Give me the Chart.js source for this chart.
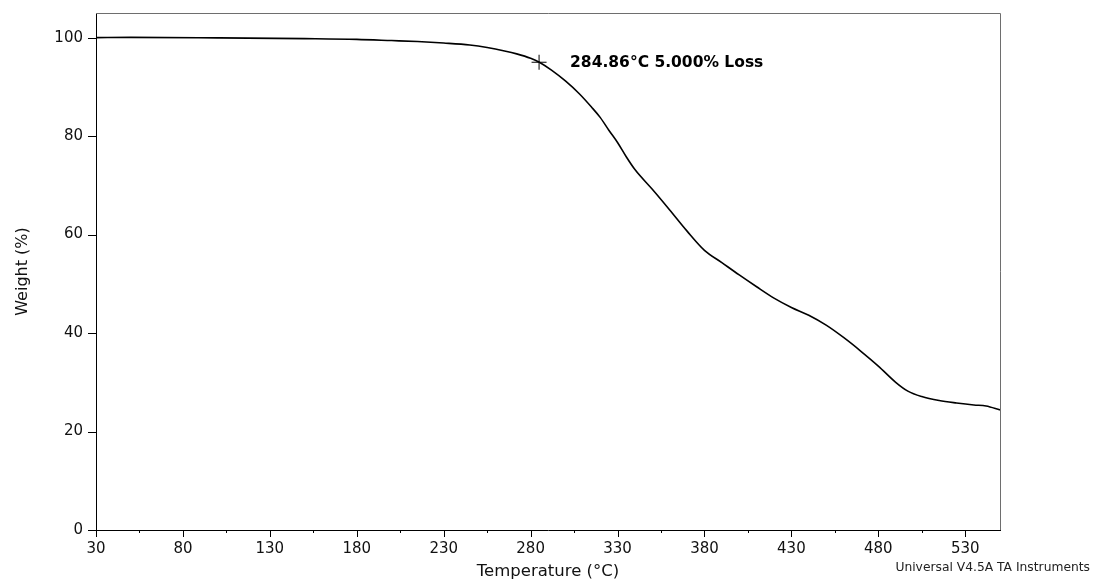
<!DOCTYPE html>
<html><head><meta charset="utf-8">
<script src="https://cdn.jsdelivr.net/npm/chart.js@4.4.1/dist/chart.umd.min.js"></script>
<style>html,body{margin:0;padding:0;background:#fff;}#wrap{width:1100px;height:580px;position:relative;}</style>
</head><body><div id="wrap"><canvas id="c" width="1100" height="580"></canvas></div>
<script>
const temperatures = [30, 50, 100, 150, 180, 200, 215, 230, 245, 255, 265, 272, 280, 285, 292, 300, 308, 315, 320, 325, 330, 335, 340, 350, 360, 370, 380, 390, 400, 410, 420, 430, 440, 450, 460, 470, 480, 490, 497, 505, 515, 525, 535, 542, 550];
const weights = [100.0, 100.05, 99.95, 99.8, 99.65, 99.4, 99.2, 98.9, 98.5, 98.0, 97.3, 96.7, 95.8, 95.0, 93.4, 91.2, 88.6, 85.9, 83.8, 81.2, 78.7, 75.8, 73.2, 69.2, 65.0, 60.7, 56.8, 54.3, 51.8, 49.4, 47.1, 45.2, 43.6, 41.6, 39.1, 36.3, 33.3, 30.0, 28.2, 27.1, 26.3, 25.8, 25.4, 25.2, 24.4];
const xTickValues = [30, 80, 130, 180, 230, 280, 330, 380, 430, 480, 530];
const xMinorTickValues = [55, 105, 155, 205, 255, 305, 355, 405, 455, 505];
const yTickValues = [0, 20, 40, 60, 80, 100];
const markerTemp = [284.86];
const markerWeight = [95.0];
const markerLabel = '284.86°C 5.000% Loss';
const xTitle = 'Temperature (°C)';
const yTitle = 'Weight (%)';
const footerText = 'Universal V4.5A TA Instruments';

const FONT = '"DejaVu Sans", "Liberation Sans", Arial, sans-serif';

const decor = {
  id: 'decor',
  afterDraw(chart) {
    const ctx = chart.ctx;
    const xs = chart.scales.x, ys = chart.scales.y;
    const a = chart.chartArea;
    ctx.save();
    ctx.strokeStyle = '#6e6e6e';
    ctx.lineWidth = 1;
    ctx.beginPath();
    ctx.moveTo(a.left, a.top + 0.5);
    ctx.lineTo(a.right + 0.5, a.top + 0.5);
    ctx.lineTo(a.right + 0.5, a.bottom);
    ctx.stroke();
    ctx.strokeStyle = '#000';
    ctx.beginPath();
    yTickValues.forEach(v => {
      const y = Math.round(ys.getPixelForValue(v)) + 0.5;
      ctx.moveTo(a.left - 8, y); ctx.lineTo(a.left, y);
    });
    xTickValues.forEach(v => {
      const x = Math.round(xs.getPixelForValue(v)) + 0.5;
      ctx.moveTo(x, a.bottom); ctx.lineTo(x, a.bottom + 7);
    });
    xMinorTickValues.forEach(v => {
      const x = Math.round(xs.getPixelForValue(v)) + 0.5;
      ctx.moveTo(x, a.bottom); ctx.lineTo(x, a.bottom + 3);
    });
    ctx.stroke();
    ctx.fillStyle = '#111';
    ctx.font = '16.5px ' + FONT;
    ctx.textAlign = 'center';
    ctx.textBaseline = 'alphabetic';
    ctx.fillText(xTitle, (a.left + a.right) / 2, 576);
    ctx.save();
    ctx.translate(27, (a.top + a.bottom) / 2);
    ctx.rotate(-Math.PI / 2);
    ctx.font = '16px ' + FONT;
    ctx.fillText(yTitle, 0, 0);
    ctx.restore();
    ctx.font = 'bold 15.5px ' + FONT;
    ctx.textAlign = 'left';
    ctx.textBaseline = 'middle';
    ctx.fillStyle = '#000';
    ctx.fillText(markerLabel, xs.getPixelForValue(markerTemp[0]) + 31, ys.getPixelForValue(markerWeight[0]) + 1);
    ctx.font = '12.3px ' + FONT;
    ctx.textAlign = 'right';
    ctx.textBaseline = 'alphabetic';
    ctx.fillStyle = '#222';
    ctx.fillText(footerText, 1090, 571);
    ctx.restore();
  }
};

new Chart(document.getElementById('c'), {
  type: 'scatter',
  data: {
    datasets: [
      {
        data: temperatures.map((t, i) => ({x: t, y: weights[i]})),
        showLine: true,
        borderColor: '#000',
        borderWidth: 1.6,
        pointRadius: 0,
        cubicInterpolationMode: 'monotone',
        fill: false,
        order: 2
      },
      {
        data: markerTemp.map((t, i) => ({x: t, y: markerWeight[i]})),
        showLine: false,
        pointStyle: 'cross',
        pointRadius: 7.5,
        borderColor: '#000',
        borderWidth: 1,
        order: 1
      }
    ]
  },
  options: {
    responsive: false,
    animation: false,
    devicePixelRatio: 1,
    layout: {padding: {left: 0, right: 100, top: 13, bottom: 0}},
    plugins: {legend: {display: false}, tooltip: {enabled: false}},
    scales: {
      x: {
        type: 'linear', min: 30, max: 550,
        afterBuildTicks: s => { s.ticks = xTickValues.map(v => ({value: v})); },
        afterFit: s => { s.height = 50; s.paddingLeft = 0; s.paddingRight = 0; },
        grid: {display: false, drawTicks: false},
        border: {display: true, color: '#000', width: 1},
        ticks: {color: '#111', font: {family: FONT, size: 15}, padding: 10, maxRotation: 0, autoSkip: false}
      },
      y: {
        type: 'linear', min: 0, max: 105,
        afterBuildTicks: s => { s.ticks = yTickValues.map(v => ({value: v})); },
        afterFit: s => { s.width = 96; s.paddingTop = 0; s.paddingBottom = 0; },
        grid: {display: false, drawTicks: false},
        border: {display: true, color: '#000', width: 1},
        ticks: {color: '#111', font: {family: FONT, size: 15}, padding: 13}
      }
    }
  },
  plugins: [decor]
});
</script></body></html>
